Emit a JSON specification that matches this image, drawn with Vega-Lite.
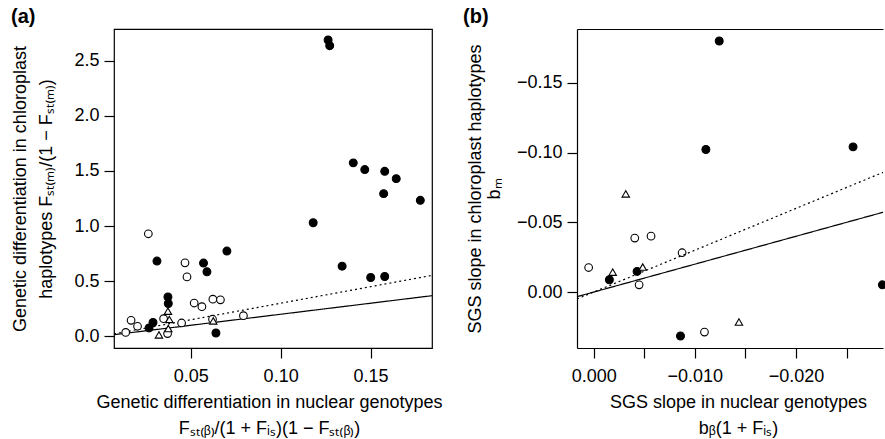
{
  "$schema": "https://vega.github.io/schema/vega-lite/v6.json",
  "background": "white",
  "padding": {"left": 10, "top": 6, "right": 0, "bottom": 0},
  "config": {
    "font": "Liberation Sans",
    "view": {"stroke": "black", "strokeWidth": 1.2},
    "axis": {"grid": false, "domain": false, "domainColor": "black", "domainWidth": 1.2, "tickColor": "black", "tickSize": 10, "tickWidth": 1.2, "labelFont": "Liberation Sans", "labelFontSize": 18, "labelColor": "black", "labelPadding": 5, "titleFont": "Liberation Sans", "titleFontSize": 18, "titleFontWeight": "normal", "titleColor": "black"},
    "title": {"font": "Liberation Sans", "fontSize": 20, "fontWeight": "bold", "anchor": "start", "frame": "group", "color": "black", "offset": 2}
  },
  "datasets": {
    "pointsA": [
      {"x": 0.1264, "y": 2.687, "type": "filled"},
      {"x": 0.1273, "y": 2.636, "type": "filled"},
      {"x": 0.1404, "y": 1.573, "type": "filled"},
      {"x": 0.1468, "y": 1.512, "type": "filled"},
      {"x": 0.1579, "y": 1.496, "type": "filled"},
      {"x": 0.1643, "y": 1.430, "type": "filled"},
      {"x": 0.1573, "y": 1.294, "type": "filled"},
      {"x": 0.1777, "y": 1.233, "type": "filled"},
      {"x": 0.1181, "y": 1.030, "type": "filled"},
      {"x": 0.0312, "y": 0.682, "type": "filled"},
      {"x": 0.0701, "y": 0.773, "type": "filled"},
      {"x": 0.0571, "y": 0.664, "type": "filled"},
      {"x": 0.0590, "y": 0.585, "type": "filled"},
      {"x": 0.1342, "y": 0.636, "type": "filled"},
      {"x": 0.1501, "y": 0.533, "type": "filled"},
      {"x": 0.1579, "y": 0.542, "type": "filled"},
      {"x": 0.0373, "y": 0.357, "type": "filled"},
      {"x": 0.0375, "y": 0.298, "type": "filled"},
      {"x": 0.0290, "y": 0.125, "type": "filled"},
      {"x": 0.0268, "y": 0.076, "type": "filled"},
      {"x": 0.0640, "y": 0.030, "type": "filled"},
      {"x": 0.0264, "y": 0.930, "type": "open"},
      {"x": 0.0468, "y": 0.666, "type": "open"},
      {"x": 0.0479, "y": 0.539, "type": "open"},
      {"x": 0.0519, "y": 0.302, "type": "open"},
      {"x": 0.0562, "y": 0.269, "type": "open"},
      {"x": 0.0623, "y": 0.337, "type": "open"},
      {"x": 0.0665, "y": 0.331, "type": "open"},
      {"x": 0.0793, "y": 0.187, "type": "open"},
      {"x": 0.0349, "y": 0.160, "type": "open"},
      {"x": 0.0168, "y": 0.145, "type": "open"},
      {"x": 0.0204, "y": 0.091, "type": "open"},
      {"x": 0.0449, "y": 0.121, "type": "open"},
      {"x": 0.0371, "y": 0.025, "type": "open"},
      {"x": 0.0138, "y": 0.035, "type": "open"},
      {"x": 0.0621, "y": 0.155, "type": "open"},
      {"x": 0.0373, "y": 0.228, "type": "triangle"},
      {"x": 0.0381, "y": 0.153, "type": "triangle"},
      {"x": 0.0375, "y": 0.070, "type": "triangle"},
      {"x": 0.0323, "y": 0.013, "type": "triangle"},
      {"x": 0.0625, "y": 0.140, "type": "triangle"}
    ],
    "linesA": [
      {"x": 0.0073, "y": 0.0146, "kind": "solid"},
      {"x": 0.1842, "y": 0.3684, "kind": "solid"},
      {"x": 0.0073, "y": 0.0219, "kind": "dotted"},
      {"x": 0.1842, "y": 0.5526, "kind": "dotted"}
    ],
    "pointsB": [
      {"x": -0.01241, "y": -0.180, "type": "filled"},
      {"x": -0.01109, "y": -0.1022, "type": "filled"},
      {"x": -0.02564, "y": -0.1041, "type": "filled"},
      {"x": -0.00155, "y": -0.0088, "type": "filled"},
      {"x": -0.00429, "y": -0.0148, "type": "filled"},
      {"x": -0.00858, "y": 0.0315, "type": "filled"},
      {"x": -0.02854, "y": -0.0052, "type": "filled"},
      {"x": 0.0005, "y": -0.0176, "type": "open"},
      {"x": -0.00406, "y": -0.0387, "type": "open"},
      {"x": -0.00567, "y": -0.0401, "type": "open"},
      {"x": -0.00449, "y": -0.0052, "type": "open"},
      {"x": -0.00874, "y": -0.0282, "type": "open"},
      {"x": -0.01095, "y": 0.0287, "type": "open"},
      {"x": -0.00317, "y": -0.0704, "type": "triangle"},
      {"x": -0.00188, "y": -0.0143, "type": "triangle"},
      {"x": -0.00485, "y": -0.0179, "type": "triangle"},
      {"x": -0.01436, "y": 0.0215, "type": "triangle"}
    ],
    "linesB": [
      {"x": 0.00165, "y": 0.0033, "kind": "solid"},
      {"x": -0.0286, "y": -0.0572, "kind": "solid"},
      {"x": 0.00165, "y": 0.00495, "kind": "dotted"},
      {"x": -0.0286, "y": -0.0858, "kind": "dotted"}
    ]
  },
  "bounds": "flush",
  "spacing": 145,
  "hconcat": [
    {
      "width": 318,
      "height": 319,
      "title": {"text": "(a)", "dx": -103},
      "layer": [
        {
          "data": {"name": "linesA"},
          "mark": {"type": "line", "color": "black", "strokeWidth": 1.2},
          "encoding": {
            "x": {"field": "x", "type": "quantitative", "scale": {"domain": [0.0073, 0.1842], "nice": false, "zero": false},
              "axis": {"values": [0.05, 0.1, 0.15], "format": ".2f", "labelPadding": 9, "titlePadding": 8, "titleLineHeight": 26, "titleX": 155,
                "title": ["Genetic differentiation in nuclear genotypes", "Fₛₜ₍ᵦ₎/(1 + Fᵢₛ)(1 − Fₛₜ₍ᵦ₎)"]}},
            "y": {"field": "y", "type": "quantitative", "scale": {"domain": [-0.106, 2.787], "nice": false, "zero": false},
              "axis": {"values": [0, 0.5, 1, 1.5, 2, 2.5], "format": ".1f", "titlePadding": 18, "titleLineHeight": 26,
                "title": ["Genetic differentiation in chloroplast", "haplotypes Fₛₜ₍ₘ₎/(1 − Fₛₜ₍ₘ₎)"]}},
            "detail": {"field": "kind"},
            "strokeDash": {"field": "kind", "type": "nominal", "scale": {"domain": ["solid", "dotted"], "range": [[1, 0], [2, 3]]}, "legend": null}
          }
        },
        {
          "data": {"name": "pointsA"},
          "mark": {"type": "point", "stroke": "black", "strokeWidth": 1.1, "opacity": 1, "fillOpacity": 1},
          "encoding": {
            "x": {"field": "x", "type": "quantitative"},
            "y": {"field": "y", "type": "quantitative"},
            "fill": {"field": "type", "type": "nominal", "scale": {"domain": ["filled", "open", "triangle"], "range": ["black", "white", "white"]}, "legend": null},
            "shape": {"field": "type", "type": "nominal", "scale": {"domain": ["filled", "open", "triangle"], "range": ["circle", "circle", "triangle-up"]}, "legend": null},
            "size": {"field": "type", "type": "nominal", "scale": {"domain": ["filled", "open", "triangle"], "range": [62, 55, 120]}, "legend": null}
          }
        }
      ]
    },
    {
      "width": 306,
      "height": 319,
      "view": {"stroke": null},
      "title": {"text": "(b)", "dx": -114},
      "resolve": {"axis": {"x": "independent"}},
      "layer": [
        {
          "data": {"name": "pointsB"},
          "mark": {"type": "point", "stroke": "black", "strokeWidth": 1.1, "opacity": 1, "fillOpacity": 1},
          "encoding": {
            "x": {"field": "x", "type": "quantitative", "scale": {"domain": [0.00165, -0.0286], "nice": false, "zero": false},
              "axis": {"domain": true, "values": [0, -0.005, -0.01, -0.015, -0.02, -0.025], "labelExpr": "round(abs(datum.value) * 200) % 2 == 0 ? format(datum.value, '.3f') : ''", "labelPadding": 9, "titlePadding": 8, "titleLineHeight": 26, "titleX": 161,
                "title": ["SGS slope in nuclear genotypes", "bᵦ(1 + Fᵢₛ)"]}},
            "y": {"field": "y", "type": "quantitative", "scale": {"domain": [0.0401, -0.1886], "nice": false, "zero": false},
              "axis": {"domain": true, "values": [0, -0.05, -0.1, -0.15], "format": ".2f", "titlePadding": 13, "titleLineHeight": 19,
                "title": ["SGS slope in chloroplast haplotypes", "bₘ"]}},
            "fill": {"field": "type", "type": "nominal", "scale": {"domain": ["filled", "open", "triangle"], "range": ["black", "white", "white"]}, "legend": null},
            "shape": {"field": "type", "type": "nominal", "scale": {"domain": ["filled", "open", "triangle"], "range": ["circle", "circle", "triangle-up"]}, "legend": null},
            "size": {"field": "type", "type": "nominal", "scale": {"domain": ["filled", "open", "triangle"], "range": [62, 55, 120]}, "legend": null}
          }
        },
        {
          "data": {"name": "linesB"},
          "mark": {"type": "line", "color": "black", "strokeWidth": 1.2},
          "encoding": {
            "x": {"field": "x", "type": "quantitative",
              "axis": {"orient": "top", "domain": true, "labels": false, "ticks": false, "title": null}},
            "y": {"field": "y", "type": "quantitative"},
            "detail": {"field": "kind"},
            "strokeDash": {"field": "kind", "type": "nominal", "scale": {"domain": ["solid", "dotted"], "range": [[1, 0], [2, 3]]}, "legend": null}
          }
        }
      ]
    }
  ]
}
